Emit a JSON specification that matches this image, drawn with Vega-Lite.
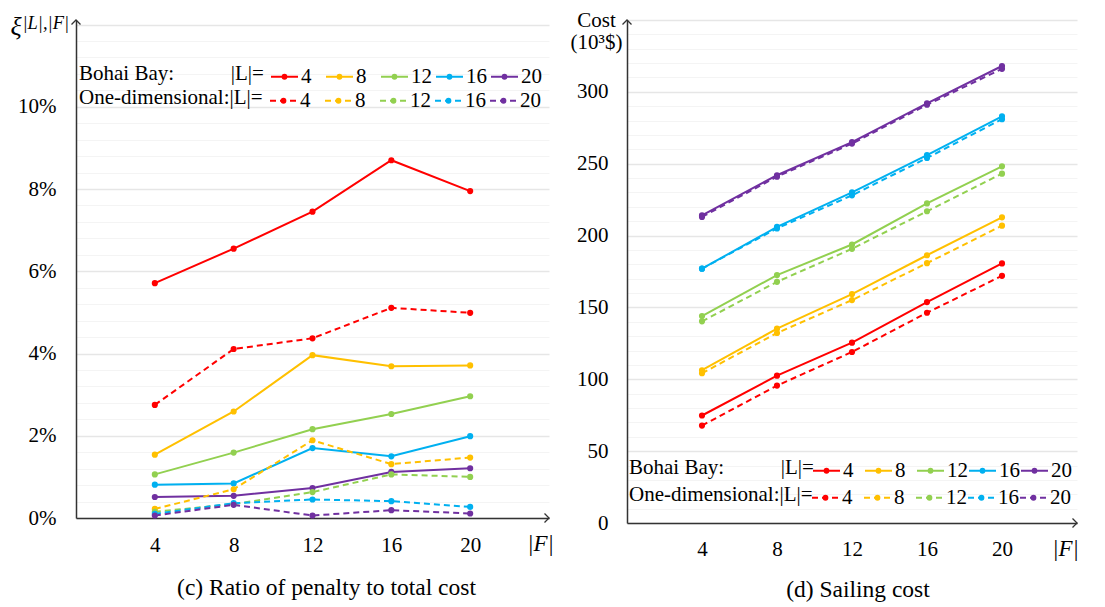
{
  "$schema": "https://vega.github.io/schema/vega-lite/v6.json",
  "background": "white",
  "padding": {"left": 10, "top": 9, "right": 5, "bottom": 5},
  "bounds": "flush",
  "spacing": 78,
  "config": {
    "view": {"stroke": null},
    "font": "'Liberation Serif', serif",
    "axis": {"labelFont": "'Liberation Serif', serif", "titleFont": "'Liberation Serif', serif", "labelColor": "black", "titleColor": "black", "domainColor": "#333333", "domainWidth": 1.5, "ticks": false, "tickSize": 0, "labelFlush": false, "labelOverlap": false, "labelFontSize": 21, "titleFontWeight": "normal"},
    "legend": {"orient": "none", "direction": "horizontal", "titleOrient": "left", "titleAnchor": "middle", "titleBaseline": "middle", "titleFont": "'Liberation Serif', serif", "labelFont": "'Liberation Serif', serif", "titleFontSize": 21, "labelFontSize": 21, "titleFontWeight": "normal", "titleColor": "black", "labelColor": "black", "titleLimit": 400, "titlePadding": 6, "padding": 0, "gridAlign": "all", "labelOffset": 2, "symbolStrokeWidth": 2, "symbolSize": 729, "symbolType": "M-1,0H1M-0.14,0A0.14,0.14,0,0,1,0.14,0M0.14,0A0.14,0.14,0,0,1,-0.14,0M-0.06,0A0.06,0.06,0,0,1,0.06,0M0.06,0A0.06,0.06,0,0,1,-0.06,0"},
    "title": {"font": "'Liberation Serif', serif", "fontWeight": "normal", "color": "black", "fontSize": 23.5}
  },
  "datasets": {
    "ratio": [
      {"type": "Bohai Bay", "L": "4", "F": 4, "v": 0.0571}, {"type": "Bohai Bay", "L": "4", "F": 8, "v": 0.0655}, {"type": "Bohai Bay", "L": "4", "F": 12, "v": 0.0745}, {"type": "Bohai Bay", "L": "4", "F": 16, "v": 0.0870}, {"type": "Bohai Bay", "L": "4", "F": 20, "v": 0.0795},
      {"type": "Bohai Bay", "L": "8", "F": 4, "v": 0.0154}, {"type": "Bohai Bay", "L": "8", "F": 8, "v": 0.0259}, {"type": "Bohai Bay", "L": "8", "F": 12, "v": 0.0396}, {"type": "Bohai Bay", "L": "8", "F": 16, "v": 0.0369}, {"type": "Bohai Bay", "L": "8", "F": 20, "v": 0.0371},
      {"type": "Bohai Bay", "L": "12", "F": 4, "v": 0.0106}, {"type": "Bohai Bay", "L": "12", "F": 8, "v": 0.0159}, {"type": "Bohai Bay", "L": "12", "F": 12, "v": 0.0216}, {"type": "Bohai Bay", "L": "12", "F": 16, "v": 0.0253}, {"type": "Bohai Bay", "L": "12", "F": 20, "v": 0.0296},
      {"type": "Bohai Bay", "L": "16", "F": 4, "v": 0.0081}, {"type": "Bohai Bay", "L": "16", "F": 8, "v": 0.0084}, {"type": "Bohai Bay", "L": "16", "F": 12, "v": 0.0170}, {"type": "Bohai Bay", "L": "16", "F": 16, "v": 0.0150}, {"type": "Bohai Bay", "L": "16", "F": 20, "v": 0.0199},
      {"type": "Bohai Bay", "L": "20", "F": 4, "v": 0.0051}, {"type": "Bohai Bay", "L": "20", "F": 8, "v": 0.0054}, {"type": "Bohai Bay", "L": "20", "F": 12, "v": 0.0073}, {"type": "Bohai Bay", "L": "20", "F": 16, "v": 0.0112}, {"type": "Bohai Bay", "L": "20", "F": 20, "v": 0.0121},
      {"type": "One-dimensional", "L": "4", "F": 4, "v": 0.0275}, {"type": "One-dimensional", "L": "4", "F": 8, "v": 0.0411}, {"type": "One-dimensional", "L": "4", "F": 12, "v": 0.0437}, {"type": "One-dimensional", "L": "4", "F": 16, "v": 0.0511}, {"type": "One-dimensional", "L": "4", "F": 20, "v": 0.0499},
      {"type": "One-dimensional", "L": "8", "F": 4, "v": 0.0022}, {"type": "One-dimensional", "L": "8", "F": 8, "v": 0.0070}, {"type": "One-dimensional", "L": "8", "F": 12, "v": 0.0189}, {"type": "One-dimensional", "L": "8", "F": 16, "v": 0.0131}, {"type": "One-dimensional", "L": "8", "F": 20, "v": 0.0147},
      {"type": "One-dimensional", "L": "12", "F": 4, "v": 0.0015}, {"type": "One-dimensional", "L": "12", "F": 8, "v": 0.0034}, {"type": "One-dimensional", "L": "12", "F": 12, "v": 0.0063}, {"type": "One-dimensional", "L": "12", "F": 16, "v": 0.0106}, {"type": "One-dimensional", "L": "12", "F": 20, "v": 0.0100},
      {"type": "One-dimensional", "L": "16", "F": 4, "v": 0.0010}, {"type": "One-dimensional", "L": "16", "F": 8, "v": 0.0036}, {"type": "One-dimensional", "L": "16", "F": 12, "v": 0.0045}, {"type": "One-dimensional", "L": "16", "F": 16, "v": 0.0041}, {"type": "One-dimensional", "L": "16", "F": 20, "v": 0.0027},
      {"type": "One-dimensional", "L": "20", "F": 4, "v": 0.0006}, {"type": "One-dimensional", "L": "20", "F": 8, "v": 0.0032}, {"type": "One-dimensional", "L": "20", "F": 12, "v": 0.0006}, {"type": "One-dimensional", "L": "20", "F": 16, "v": 0.0019}, {"type": "One-dimensional", "L": "20", "F": 20, "v": 0.0011}
    ],
    "cost": [
      {"type": "Bohai Bay", "L": "4", "F": 4, "v": 74.8}, {"type": "Bohai Bay", "L": "4", "F": 8, "v": 102.5}, {"type": "Bohai Bay", "L": "4", "F": 12, "v": 125.5}, {"type": "Bohai Bay", "L": "4", "F": 16, "v": 153.7}, {"type": "Bohai Bay", "L": "4", "F": 20, "v": 180.6},
      {"type": "Bohai Bay", "L": "8", "F": 4, "v": 106.3}, {"type": "Bohai Bay", "L": "8", "F": 8, "v": 135.2}, {"type": "Bohai Bay", "L": "8", "F": 12, "v": 159.3}, {"type": "Bohai Bay", "L": "8", "F": 16, "v": 186.3}, {"type": "Bohai Bay", "L": "8", "F": 20, "v": 212.7},
      {"type": "Bohai Bay", "L": "12", "F": 4, "v": 144.0}, {"type": "Bohai Bay", "L": "12", "F": 8, "v": 172.5}, {"type": "Bohai Bay", "L": "12", "F": 12, "v": 193.8}, {"type": "Bohai Bay", "L": "12", "F": 16, "v": 222.4}, {"type": "Bohai Bay", "L": "12", "F": 20, "v": 248.2},
      {"type": "Bohai Bay", "L": "16", "F": 4, "v": 177.0}, {"type": "Bohai Bay", "L": "16", "F": 8, "v": 206.0}, {"type": "Bohai Bay", "L": "16", "F": 12, "v": 230.0}, {"type": "Bohai Bay", "L": "16", "F": 16, "v": 256.0}, {"type": "Bohai Bay", "L": "16", "F": 20, "v": 283.0},
      {"type": "Bohai Bay", "L": "20", "F": 4, "v": 214.0}, {"type": "Bohai Bay", "L": "20", "F": 8, "v": 242.0}, {"type": "Bohai Bay", "L": "20", "F": 12, "v": 265.0}, {"type": "Bohai Bay", "L": "20", "F": 16, "v": 292.0}, {"type": "Bohai Bay", "L": "20", "F": 20, "v": 318.0},
      {"type": "One-dimensional", "L": "4", "F": 4, "v": 67.8}, {"type": "One-dimensional", "L": "4", "F": 8, "v": 95.6}, {"type": "One-dimensional", "L": "4", "F": 12, "v": 119.0}, {"type": "One-dimensional", "L": "4", "F": 16, "v": 146.3}, {"type": "One-dimensional", "L": "4", "F": 20, "v": 172.0},
      {"type": "One-dimensional", "L": "8", "F": 4, "v": 104.2}, {"type": "One-dimensional", "L": "8", "F": 8, "v": 132.2}, {"type": "One-dimensional", "L": "8", "F": 12, "v": 155.1}, {"type": "One-dimensional", "L": "8", "F": 16, "v": 180.8}, {"type": "One-dimensional", "L": "8", "F": 20, "v": 206.9},
      {"type": "One-dimensional", "L": "12", "F": 4, "v": 140.3}, {"type": "One-dimensional", "L": "12", "F": 8, "v": 167.8}, {"type": "One-dimensional", "L": "12", "F": 12, "v": 190.8}, {"type": "One-dimensional", "L": "12", "F": 16, "v": 216.9}, {"type": "One-dimensional", "L": "12", "F": 20, "v": 243.1},
      {"type": "One-dimensional", "L": "16", "F": 4, "v": 177.0}, {"type": "One-dimensional", "L": "16", "F": 8, "v": 205.0}, {"type": "One-dimensional", "L": "16", "F": 12, "v": 228.0}, {"type": "One-dimensional", "L": "16", "F": 16, "v": 254.0}, {"type": "One-dimensional", "L": "16", "F": 20, "v": 281.0},
      {"type": "One-dimensional", "L": "20", "F": 4, "v": 213.0}, {"type": "One-dimensional", "L": "20", "F": 8, "v": 241.0}, {"type": "One-dimensional", "L": "20", "F": 12, "v": 264.0}, {"type": "One-dimensional", "L": "20", "F": 16, "v": 291.0}, {"type": "One-dimensional", "L": "20", "F": 20, "v": 316.0}
    ]
  },
  "hconcat": [
    {
      "width": 473,
      "height": 498,
      "data": {"name": "ratio"},
      "title": {"text": "(c) Ratio of penalty to total cost", "orient": "bottom", "anchor": "middle", "frame": "group", "offset": 21, "dx": 14},
      "layer": [
        {
          "transform": [{"filter": "datum.type === 'Bohai Bay'"}],
          "mark": {"type": "line", "strokeWidth": 2, "point": {"filled": true, "size": 38}},
          "encoding": {
            "x": {"field": "F", "type": "quantitative", "scale": {"domain": [0, 24], "nice": false},
              "axis": {"values": [4, 8, 12, 16, 20], "grid": false, "labelPadding": 33, "labelBaseline": "alphabetic", "title": "|F|", "titleX": 464, "titleY": 32, "titleAlign": "center", "titleBaseline": "alphabetic", "titleFontSize": 23, "titleFontStyle": "italic"}},
            "y": {"field": "v", "type": "quantitative", "scale": {"domain": [0, 0.1211], "nice": false},
              "axis": {"values": [0, 0.004, 0.008, 0.012, 0.016, 0.02, 0.024, 0.028, 0.032, 0.036, 0.04, 0.044, 0.048, 0.052, 0.056, 0.06, 0.064, 0.068, 0.072, 0.076, 0.08, 0.084, 0.088, 0.092, 0.096, 0.1, 0.104, 0.108, 0.112, 0.116, 0.12],
                "grid": true,
                "gridColor": {"condition": {"test": "abs(datum.value*50-round(datum.value*50))<0.001", "value": "#e6e6e6"}, "value": "#f4f4f4"},
                "gridWidth": {"condition": {"test": "abs(datum.value*50-round(datum.value*50))<0.001", "value": 1.6}, "value": 1},
                "labelExpr": "abs(datum.value*50-round(datum.value*50))<0.001 && datum.value<0.11 ? format(datum.value,'.0%') : ''",
                "labelPadding": 20, "title": "ξ", "titleAngle": 0, "titleX": -66, "titleY": 14, "titleAlign": "left", "titleBaseline": "alphabetic", "titleFontSize": 26, "titleFontStyle": "italic"}},
            "color": {"field": "L", "type": "nominal", "scale": {"domain": ["4", "8", "12", "16", "20"], "range": ["#FF0000", "#FFC000", "#92D050", "#00B0F0", "#7030A0"]},
              "legend": {"title": "Bohai Bay:\u00a0\u00a0\u00a0\u00a0\u00a0\u00a0\u00a0\u00a0\u00a0\u00a0\u2009|L|=", "legendX": 3, "legendY": 42, "columnPadding": 0}}
          }
        },
        {
          "transform": [{"filter": "datum.type === 'One-dimensional'"}],
          "mark": {"type": "line", "strokeWidth": 2, "strokeDash": [6, 4], "point": {"filled": true, "size": 38}},
          "encoding": {
            "x": {"field": "F", "type": "quantitative", "axis": null},
            "y": {"field": "v", "type": "quantitative", "axis": null},
            "color": {"field": "L", "type": "nominal", "scale": {"domain": ["4", "8", "12", "16", "20"], "range": ["#FF0000", "#FFC000", "#92D050", "#00B0F0", "#7030A0"]},
              "legend": {"title": "One-dimensional:|L|=", "legendX": 3, "legendY": 66, "columnPadding": 0, "symbolDash": [6, 4]}}
          }
        },
        {
          "transform": [{"aggregate": [{"op": "count", "as": "n"}]}],
          "mark": {"type": "point", "shape": "M-1,1L0,0L1,1", "filled": false, "size": 81, "stroke": "#333333", "strokeWidth": 1.3, "opacity": 1},
          "encoding": {
            "x": {"datum": 0, "type": "quantitative", "axis": null},
            "y": {"datum": 0.1211, "type": "quantitative",
              "axis": {"orient": "left", "offset": 0, "domain": false, "labels": false, "ticks": false, "grid": false, "title": "|L|,|F|", "titleAngle": 0, "titleX": -54, "titleY": 8, "titleAlign": "left", "titleBaseline": "alphabetic", "titleFontSize": 18.5, "titleFontStyle": "italic"}}
          }
        },
        {
          "transform": [{"aggregate": [{"op": "count", "as": "n"}]}],
          "mark": {"type": "point", "shape": "M-1,-1L0,0L-1,1", "filled": false, "size": 81, "stroke": "#333333", "strokeWidth": 1.3, "opacity": 1},
          "encoding": {
            "x": {"datum": 24, "type": "quantitative", "axis": null},
            "y": {"datum": 0, "type": "quantitative", "axis": null}
          }
        }
      ],
      "resolve": {"scale": {"color": "independent"}, "legend": {"color": "independent"}, "axis": {"x": "independent", "y": "independent"}}
    },
    {
      "width": 450,
      "height": 503,
      "data": {"name": "cost"},
      "title": {"text": "(d) Sailing cost", "orient": "bottom", "anchor": "middle", "frame": "group", "offset": 18, "dx": 6},
      "layer": [
        {
          "transform": [{"filter": "datum.type === 'Bohai Bay'"}],
          "mark": {"type": "line", "strokeWidth": 2, "point": {"filled": true, "size": 38}},
          "encoding": {
            "x": {"field": "F", "type": "quantitative", "scale": {"domain": [0, 24], "nice": false},
              "axis": {"values": [4, 8, 12, 16, 20], "grid": false, "labelPadding": 32, "labelBaseline": "alphabetic", "title": "|F|", "titleX": 438, "titleY": 32, "titleAlign": "center", "titleBaseline": "alphabetic", "titleFontSize": 23, "titleFontStyle": "italic"}},
            "y": {"field": "v", "type": "quantitative", "scale": {"domain": [0, 350], "nice": false},
              "axis": {"values": [0, 10, 20, 30, 40, 50, 60, 70, 80, 90, 100, 110, 120, 130, 140, 150, 160, 170, 180, 190, 200, 210, 220, 230, 240, 250, 260, 270, 280, 290, 300, 310, 320, 330, 340, 350],
                "grid": true,
                "gridColor": {"condition": {"test": "datum.value % 50 === 0", "value": "#e6e6e6"}, "value": "#f4f4f4"},
                "gridWidth": {"condition": {"test": "datum.value % 50 === 0", "value": 1.6}, "value": 1},
                "labelExpr": "datum.value % 50 === 0 && datum.value < 320 ? '' + datum.value : ''",
                "labelPadding": 19, "title": ["Cost", "(10³$)"], "titleAngle": 0, "titleX": -31, "titleY": 6, "titleAlign": "center", "titleBaseline": "alphabetic", "titleLineHeight": 22, "titleFontSize": 21}},
            "color": {"field": "L", "type": "nominal", "scale": {"domain": ["4", "8", "12", "16", "20"], "range": ["#FF0000", "#FFC000", "#92D050", "#00B0F0", "#7030A0"]},
              "legend": {"title": "Bohai Bay:\u00a0\u00a0\u00a0\u00a0\u00a0\u00a0\u00a0\u00a0\u00a0\u00a0\u2009|L|=", "legendX": 2, "legendY": 436, "columnPadding": -3, "titlePadding": -2}}
          }
        },
        {
          "transform": [{"filter": "datum.type === 'One-dimensional'"}],
          "mark": {"type": "line", "strokeWidth": 2, "strokeDash": [6, 4], "point": {"filled": true, "size": 38}},
          "encoding": {
            "x": {"field": "F", "type": "quantitative", "axis": null},
            "y": {"field": "v", "type": "quantitative", "axis": null},
            "color": {"field": "L", "type": "nominal", "scale": {"domain": ["4", "8", "12", "16", "20"], "range": ["#FF0000", "#FFC000", "#92D050", "#00B0F0", "#7030A0"]},
              "legend": {"title": "One-dimensional:|L|=", "legendX": 2, "legendY": 463, "columnPadding": -3, "titlePadding": -2, "symbolDash": [6, 4]}}
          }
        },
        {
          "transform": [{"aggregate": [{"op": "count", "as": "n"}]}],
          "mark": {"type": "point", "shape": "M-1,1L0,0L1,1", "filled": false, "size": 81, "stroke": "#333333", "strokeWidth": 1.3, "opacity": 1},
          "encoding": {
            "x": {"datum": 0, "type": "quantitative", "axis": null},
            "y": {"datum": 350, "type": "quantitative", "axis": null}
          }
        },
        {
          "transform": [{"aggregate": [{"op": "count", "as": "n"}]}],
          "mark": {"type": "point", "shape": "M-1,-1L0,0L-1,1", "filled": false, "size": 81, "stroke": "#333333", "strokeWidth": 1.3, "opacity": 1},
          "encoding": {
            "x": {"datum": 24, "type": "quantitative", "axis": null},
            "y": {"datum": 0, "type": "quantitative", "axis": null}
          }
        }
      ],
      "resolve": {"scale": {"color": "independent"}, "legend": {"color": "independent"}, "axis": {"x": "independent", "y": "independent"}}
    }
  ]
}
